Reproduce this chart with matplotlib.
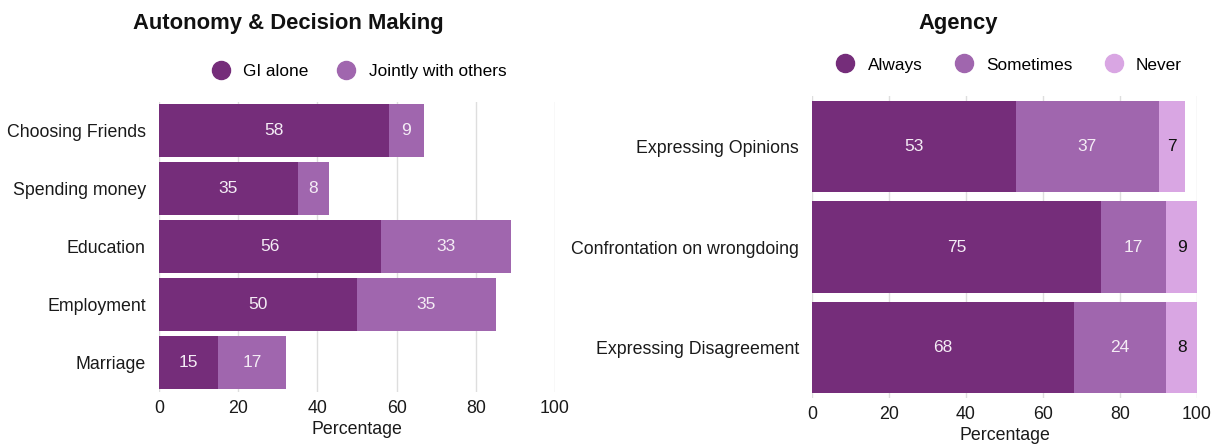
import numpy as np
import matplotlib.pyplot as plt
from matplotlib.lines import Line2D

plt.rcParams['font.family'] = ['Liberation Sans', 'DejaVu Sans']

# left chart data
auto_cats = ['Choosing Friends', 'Spending money', 'Education', 'Employment', 'Marriage']
gi_alone = [58, 35, 56, 50, 15]
jointly = [9, 8, 33, 35, 17]

# right chart data
agency_cats = ['Expressing Opinions', 'Confrontation on wrongdoing', 'Expressing Disagreement']
always = [53, 75, 68]
sometimes = [37, 17, 24]
never = [7, 9, 8]

ticks = [0, 20, 40, 60, 80, 100]

dark = '#752d7a'
mid = '#a066ae'
light = '#d9a6e3'
grid_col = '#dedede'
txt = '#1a1a1a'

fig = plt.figure(figsize=(12.11, 4.47), dpi=100)

ax1 = fig.add_axes([159 / 1211, 1 - 391.5 / 447, 396 / 1211, 290 / 447])
ax2 = fig.add_axes([812 / 1211, 1 - 398 / 447, 385 / 1211, 302 / 447])


def style_axis(ax, labels):
    ax.set_xlim(0, 100)
    ax.set_xticks(ticks)
    ax.set_ylim(len(labels) - 0.5, -0.5)
    ax.set_yticks(range(len(labels)))
    ax.set_yticklabels(labels)
    for s in ax.spines.values():
        s.set_visible(False)
    ax.tick_params(length=0, labelsize=12.8, colors=txt)
    ax.tick_params(axis='y', pad=9.5)
    ax.tick_params(axis='x', pad=6)
    ax.grid(axis='x', color=grid_col, linewidth=1)
    ax.set_axisbelow(True)
    ax.set_xlabel('Percentage', fontsize=12.8, color=txt, labelpad=3)


# autonomy chart
y1 = np.arange(len(auto_cats))
b1 = ax1.barh(y1, gi_alone, height=0.91, color=dark)
b2 = ax1.barh(y1, jointly, left=gi_alone, height=0.91, color=mid)
ax1.bar_label(b1, label_type='center', color='#f4ecf5', fontsize=12.5)
ax1.bar_label(b2, label_type='center', color='#f4ecf5', fontsize=12.5)
style_axis(ax1, auto_cats)

# agency chart
y2 = np.arange(len(agency_cats))
left2 = np.array(always) + np.array(sometimes)
c1 = ax2.barh(y2, always, height=0.91, color=dark)
c2 = ax2.barh(y2, sometimes, left=always, height=0.91, color=mid)
c3 = ax2.barh(y2, never, left=left2, height=0.91, color=light)
ax2.bar_label(c1, label_type='center', color='#f4ecf5', fontsize=12.5)
ax2.bar_label(c2, label_type='center', color='#f4ecf5', fontsize=12.5)
ax2.bar_label(c3, label_type='center', color='#111111', fontsize=12.5)
style_axis(ax2, agency_cats)

fig.text(288 / 1211, 1 - 24 / 447, 'Autonomy & Decision Making', ha='center', va='center',
         fontsize=15.8, fontweight='bold', color='#111111')
fig.text(958 / 1211, 1 - 24 / 447, 'Agency', ha='center', va='center',
         fontsize=15.8, fontweight='bold', color='#111111')


def dot(c):
    return Line2D([], [], marker='o', linestyle='', markersize=13,
                  markerfacecolor=c, markeredgecolor=c)


fig.legend([dot(dark), dot(mid)], ['GI alone', 'Jointly with others'],
           loc='center', bbox_to_anchor=(355 / 1211, 1 - 71 / 447), ncol=2,
           frameon=False, fontsize=12.4, handletextpad=0.3, columnspacing=1.2)
fig.legend([dot(dark), dot(mid), dot(light)], ['Always', 'Sometimes', 'Never'],
           loc='center', bbox_to_anchor=(1005 / 1211, 1 - 65 / 447), ncol=3,
           frameon=False, fontsize=12.4, handletextpad=0.3, columnspacing=1.4)

fig.savefig('out.png', dpi=100)
